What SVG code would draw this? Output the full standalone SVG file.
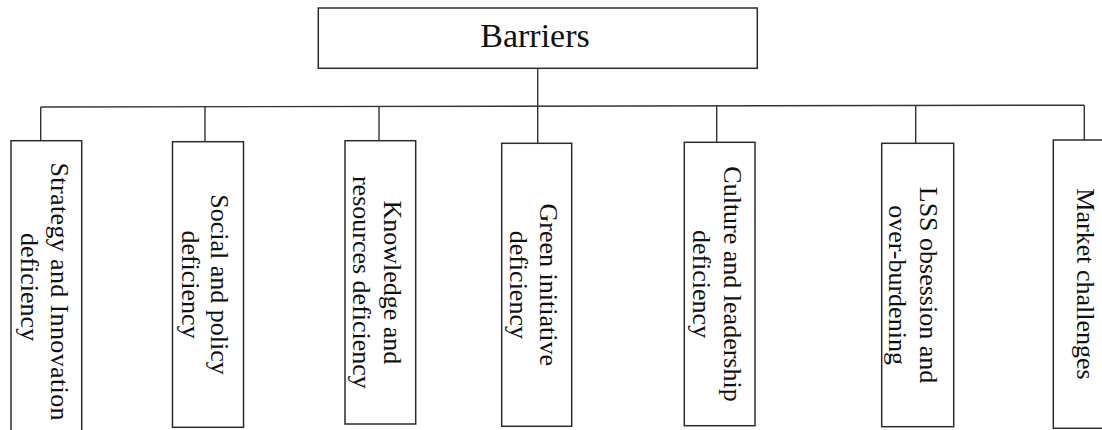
<svg xmlns="http://www.w3.org/2000/svg" width="1102" height="430" viewBox="0 0 1102 430">
<style>
.box{fill:#fff;stroke:#2b2b2b;stroke-width:1.5}
.ln{fill:none;stroke:#333;stroke-width:1.4}
.t{font-family:"Liberation Serif","Times New Roman",serif;font-size:26px;fill:#111;text-anchor:middle}
.h{font-family:"Liberation Serif","Times New Roman",serif;font-size:34px;fill:#111;text-anchor:middle}
</style>
<rect width="1102" height="430" fill="#fff"/>
<g id="connectors">
<path class="ln" d="M537.7,68 V143.3"/>
<path class="ln" d="M40.7,107 L1084.3,105.2"/>
<path class="ln" d="M40.7,107 V140.7"/>
<path class="ln" d="M205,106.8 V141.7"/>
<path class="ln" d="M379,106.5 V140.7"/>
<path class="ln" d="M716.7,105.9 V142.3"/>
<path class="ln" d="M915.7,105.6 V143.3"/>
<path class="ln" d="M1084.3,105.2 V140"/>
</g>
<g id="barriers">
<rect class="box" x="318.3" y="8" width="439" height="60.3"/>
<text class="h" x="535" y="47">Barriers</text>
</g>
<g id="strategy">
<rect class="box" x="11" y="140.7" width="70.7" height="300"/>
<text class="t" transform="translate(51,291.5) rotate(90)" textLength="258" lengthAdjust="spacing">Strategy and Innovation</text>
<text class="t" transform="translate(20.5,287) rotate(90)">deficiency</text>
</g>
<g id="social">
<rect class="box" x="172.5" y="141.7" width="71" height="285.6"/>
<text class="t" transform="translate(211,284.5) rotate(90)">Social and policy</text>
<text class="t" transform="translate(182,284.5) rotate(90)">deficiency</text>
</g>
<g id="knowledge">
<rect class="box" x="345" y="140.7" width="70.7" height="283.3"/>
<text class="t" transform="translate(384,282.4) rotate(90)">Knowledge and</text>
<text class="t" transform="translate(353,282.4) rotate(90)">resources deficiency</text>
</g>
<g id="green">
<rect class="box" x="501.7" y="143.3" width="70" height="283"/>
<text class="t" transform="translate(540,284.8) rotate(90)">Green initiative</text>
<text class="t" transform="translate(510,284.8) rotate(90)">deficiency</text>
</g>
<g id="culture">
<rect class="box" x="684.3" y="142.3" width="70.7" height="283.4"/>
<text class="t" transform="translate(724,284) rotate(90)">Culture and leadership</text>
<text class="t" transform="translate(693,284) rotate(90)">deficiency</text>
</g>
<g id="lss">
<rect class="box" x="881.7" y="143.3" width="72" height="283.4"/>
<text class="t" transform="translate(920,285) rotate(90)">LSS obsession and</text>
<text class="t" transform="translate(889,285) rotate(90)">over-burdening</text>
</g>
<g id="market">
<rect class="box" x="1053.3" y="140" width="70" height="288.3"/>
<text class="t" transform="translate(1077,284) rotate(90)">Market challenges</text>
</g>
</svg>
